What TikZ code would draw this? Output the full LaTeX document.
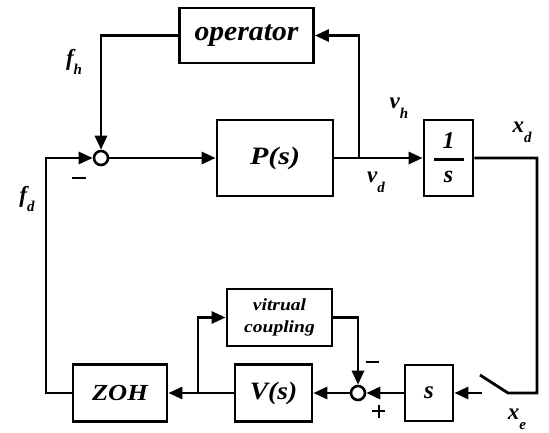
\documentclass[tikz,border=0pt]{standalone}
\usepackage{fontspec}
\usepackage{graphicx}
\setmainfont{Liberation Serif}
\usetikzlibrary{arrows.meta}
\newcommand{\sublbl}[2]{#1\raisebox{-0.42em}{\fontsize{15}{15}\selectfont #2}}
\begin{document}
\begin{tikzpicture}[x=1pt,y=-1pt,line width=2.8pt,
  blk/.style={draw,line width=2.8pt,inner sep=0pt,font=\bfseries\itshape\fontsize{25}{27}\selectfont},
  sumc/.style={circle,draw,line width=2.6pt,minimum size=14pt,inner sep=0pt},
  arr/.style={-{Triangle[length=14pt,width=12pt]}},
  lbl/.style={inner sep=0pt,font=\bfseries\itshape\fontsize{23}{24}\selectfont},
  sgn/.style={inner sep=0pt,font=\fontsize{18}{18}\selectfont}]
\useasboundingbox (0,0) rectangle (549,432);

% blocks
\node[blk,minimum width=134pt,minimum height=55pt,font=\bfseries\itshape\fontsize{28}{30}\selectfont] (op) at (246.5,35.5) {\scalebox{1.06}[1]{operator}};
\node[blk,minimum width=116pt,minimum height=76pt] (P) at (275,158) {\scalebox{1.2}[1]{P(s)}};
\node[blk,minimum width=49pt,minimum height=76pt,font=\bfseries\itshape\fontsize{24}{24}\selectfont] (I) at (448.5,158) {$\displaystyle{\mbox{\hspace{9pt}1\hspace{9pt}}\above2.5pt\mbox{s}}$};
\node[blk,minimum width=94pt,minimum height=57pt,font=\bfseries\itshape\fontsize{23}{25}\selectfont] (ZOH) at (120,393) {\scalebox{1.15}[1]{ZOH}};
\node[blk,minimum width=77pt,minimum height=57pt] (V) at (273.5,393) {\scalebox{1.1}[1]{V(s)}};
\node[blk,minimum width=48pt,minimum height=56pt] (S) at (429,393) {s};
\node[blk,minimum width=105pt,minimum height=57pt,align=center,font=\bfseries\itshape\fontsize{17}{22}\selectfont] (VC) at (279.5,317.5) {\scalebox{1.15}[1]{vitrual}\\\scalebox{1.15}[1]{coupling}};
\node[sumc] (sum1) at (101,158) {};
\node[sumc] (sum2) at (358,393) {};

% helper points
\coordinate (br) at (359,158);
\coordinate (fdc) at (46,158);
\coordinate (sw1) at (537,393);
\coordinate (sw2) at (508,393);
\coordinate (sw3) at (480,375);
\coordinate (sw4) at (482,393);
\coordinate (br2) at (198,393);

% connectors
\draw[arr] (op.west) -| (sum1.north);
\draw[arr] (sum1.east) -- (P.west);
\draw[arr] (P.east) -- (I.west);
\draw[arr] (br) |- (op.east);
\draw (I.east) -| (sw1) -- (sw2) -- (sw3);
\draw[arr] (sw4) -- (S.east);
\draw[arr] (S.west) -- (sum2.east);
\draw[arr] (sum2.west) -- (V.east);
\draw[arr] (V.west) -- (ZOH.east);
\draw[arr] (br2) |- (VC.west);
\draw[arr] (VC.east) -| (sum2.north);
\draw[arr] (ZOH.west) -| (fdc) -- (sum1.west);

% labels
\node[lbl] (lfh) at (74,62) {\sublbl{f}{h}};
\node[lbl] (lfd) at (27,199) {\sublbl{f}{d}};
\node[lbl] (lvh) at (399,108) {\sublbl{v}{h}};
\node[lbl] (lvd) at (376,182) {\sublbl{v}{d}};
\node[lbl] (lxd) at (522,132) {\sublbl{x}{d}};
\node[lbl] (lxe) at (517,419) {\sublbl{x}{e}};
\node[sgn] (m1) at (79,178) {\rule{14pt}{2pt}};
\node[sgn] (m2) at (372,362) {\rule{13pt}{2pt}};
\node[sgn] (p2) at (376,411) {\rule{13pt}{1.3pt}\hspace{-13pt}\hspace{5.85pt}\rule[-5.85pt]{1.3pt}{13pt}\hspace{5.85pt}};
\end{tikzpicture}
\end{document}
